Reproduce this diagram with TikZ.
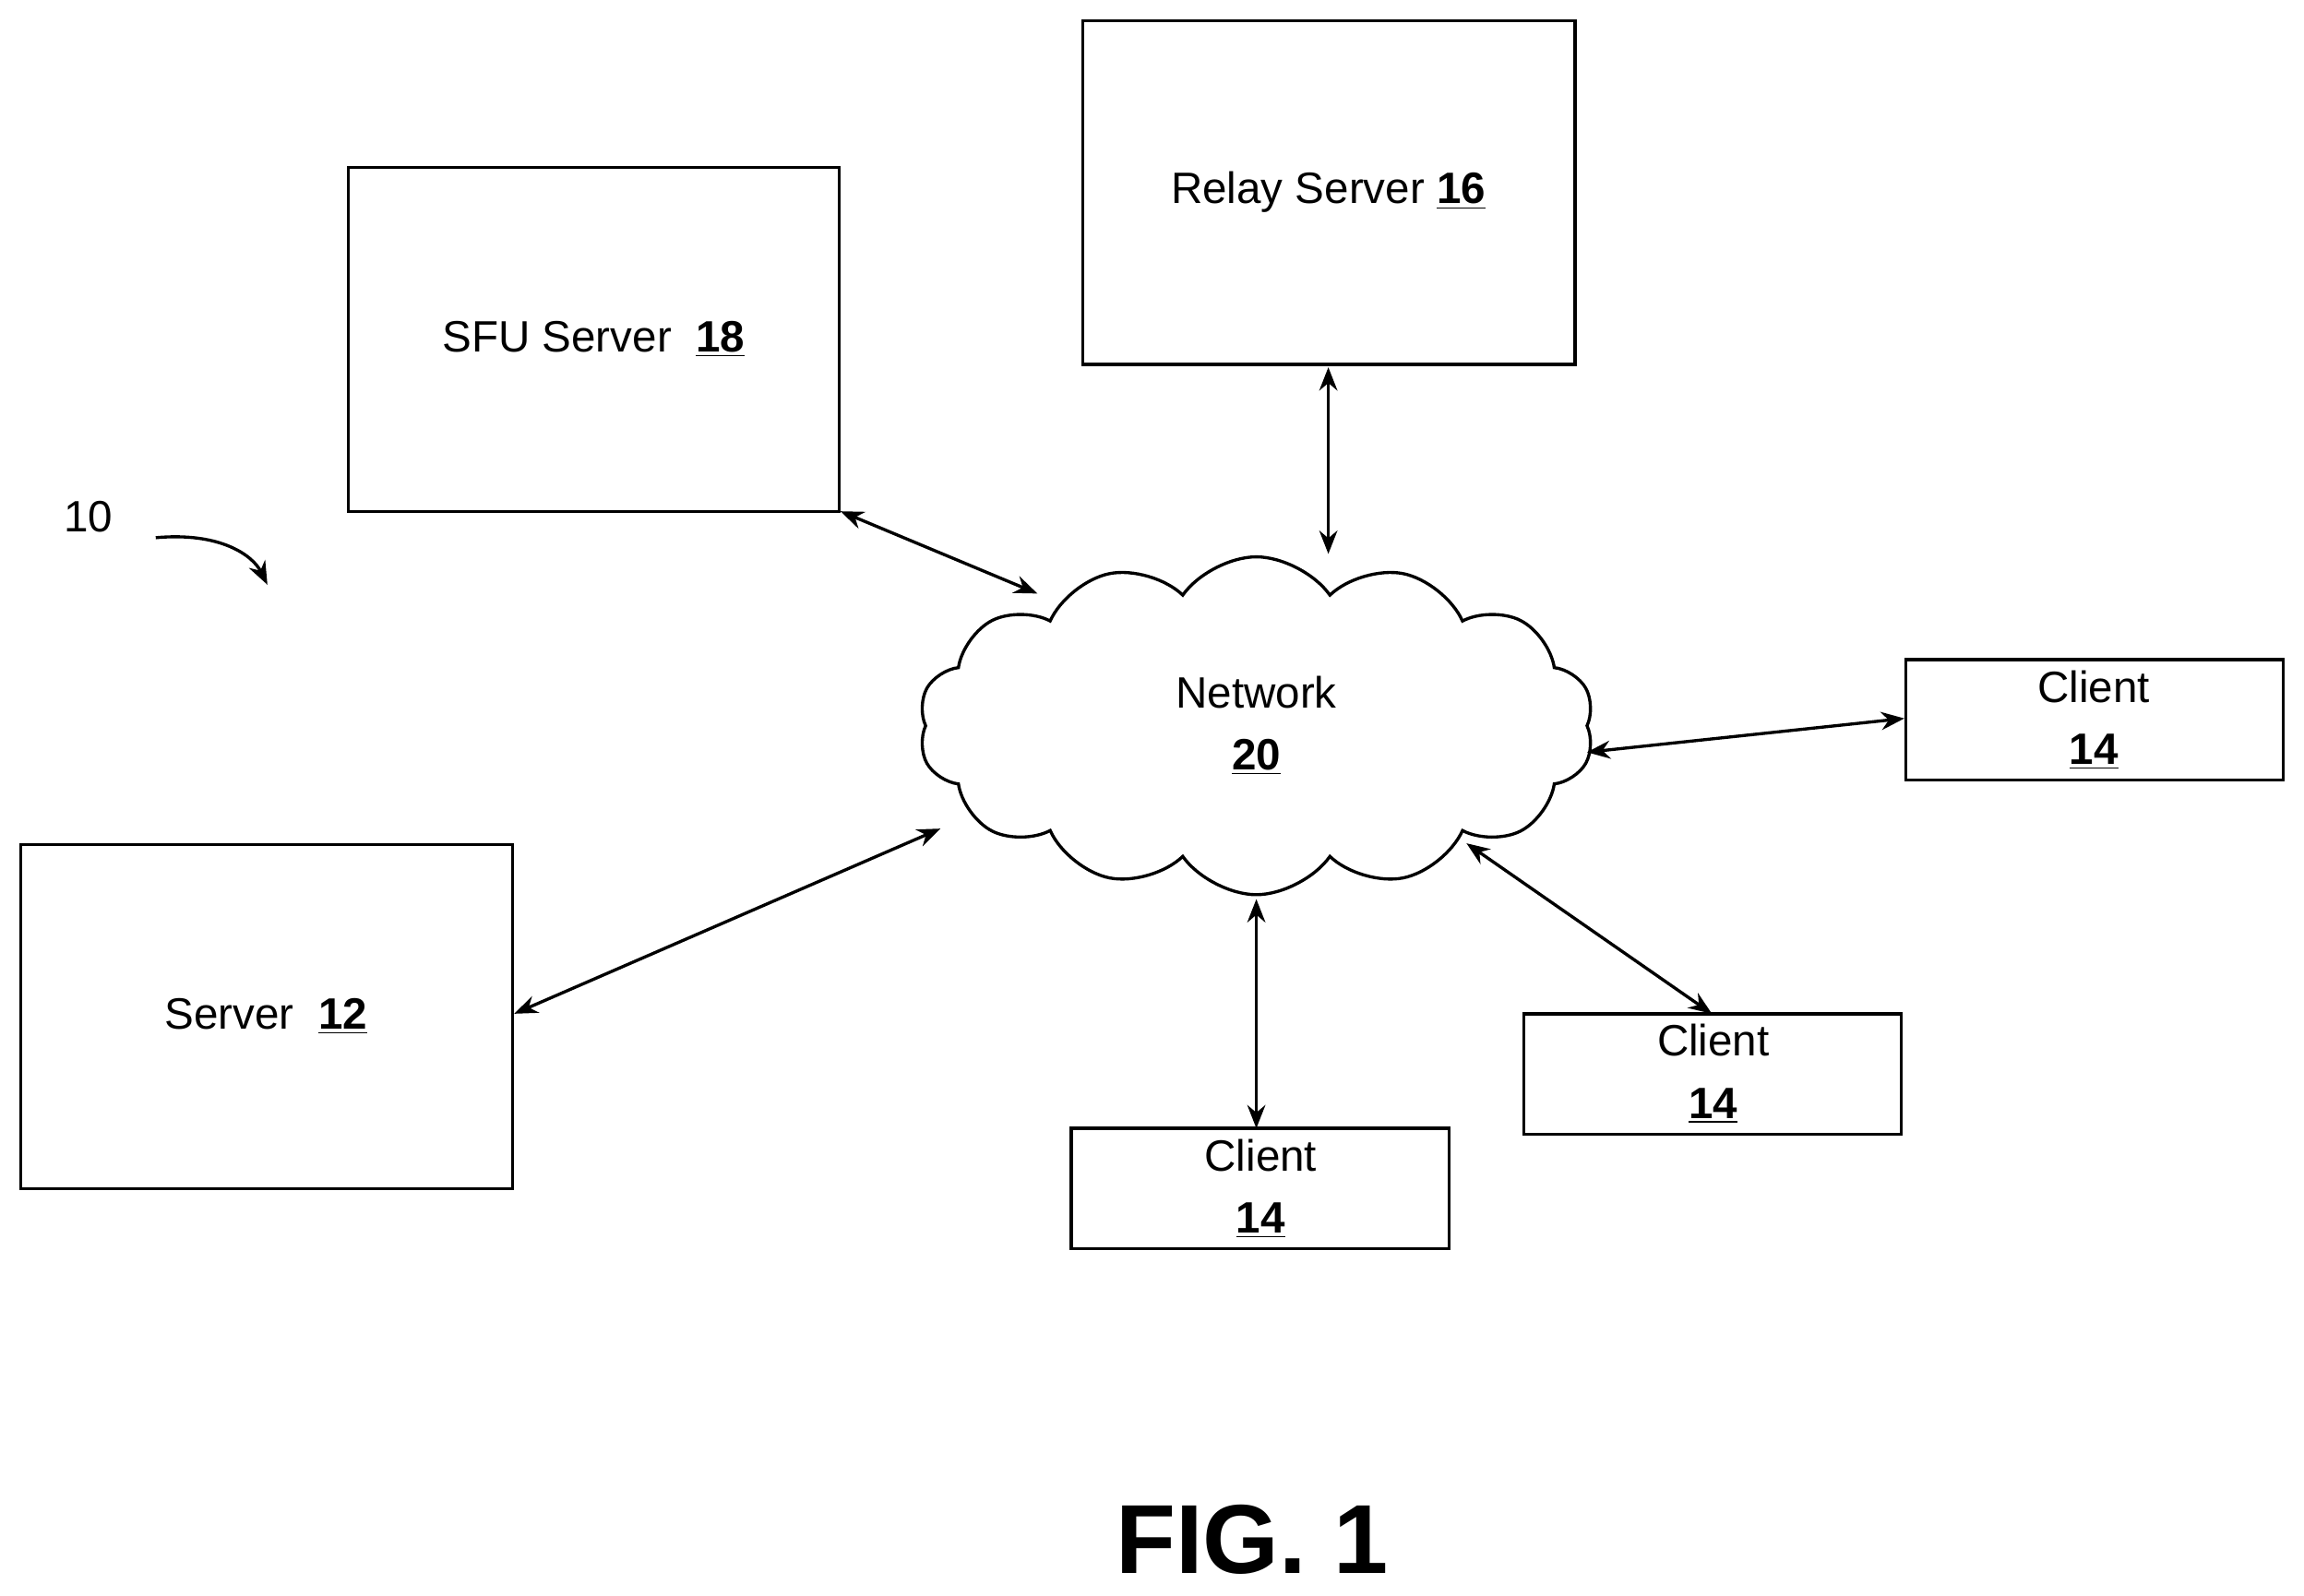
\documentclass[tikz,border=0pt]{standalone}
\usepackage{fontspec}
\setmainfont{Liberation Sans}
\usetikzlibrary{shapes.symbols,arrows.meta}
\begin{document}
\begin{tikzpicture}[x=0.02cm,y=-0.02cm,
  box/.style={draw,line width=1.2pt,fill=white},
  lbl/.style={font=\fontsize{17}{21}\selectfont,align=center},
  conn/.style={line width=1.2pt,{Stealth[length=9pt,width=7pt]}-{Stealth[length=9pt,width=7pt]}}]
\useasboundingbox (0,0) rectangle (1568,1086);
\draw[box] (237,114) rectangle (571,348);
\node[lbl] (sfu) at (404,231) {SFU Server\ \ \underline{\textbf{18}}};
\draw[box] (737,14) rectangle (1072,248);
\node[lbl] (relay) at (904,131) {Relay Server \underline{\textbf{16}}};
\draw[box] (14,575) rectangle (349,809);
\node[lbl] (srv) at (181,692) {Server\ \ \underline{\textbf{12}}};
\draw[box] (1297,449) rectangle (1554,531);
\node[lbl] (c1) at (1425,490) {Client\\[3pt]\underline{\textbf{14}}};
\draw[box] (1037,690) rectangle (1294,772);
\node[lbl] (c2) at (1166,731) {Client\\[3pt]\underline{\textbf{14}}};
\draw[box] (729,768) rectangle (986,850);
\node[lbl] (c3) at (858,809) {Client\\[3pt]\underline{\textbf{14}}};
\node[cloud,draw,line width=1.2pt,cloud puffs=14,cloud puff arc=110,aspect=2,
  minimum width=9.2cm,minimum height=4.6cm] (net) at (855,494) {};
\node[lbl] (netl) at (855,494) {Network\\[3pt]\underline{\textbf{20}}};
\coordinate (a1) at (572,348); \coordinate (a2) at (706,404);
\coordinate (b1) at (904,250); \coordinate (b2) at (904,377);
\coordinate (s1) at (350,690); \coordinate (s2) at (640,564);
\coordinate (d1) at (1296,489); \coordinate (d2) at (1080,512);
\coordinate (e1) at (1165,690); \coordinate (e2) at (998,574);
\coordinate (f1) at (855,768); \coordinate (f2) at (855,612);
\draw[conn] (a1) -- (a2);
\draw[conn] (b1) -- (b2);
\draw[conn] (s1) -- (s2);
\draw[conn] (d1) -- (d2);
\draw[conn] (e1) -- (e2);
\draw[conn] (f1) -- (f2);
\node[lbl] (ten) at (60,352) {10};
\coordinate (t1) at (106,366); \coordinate (t2) at (182,398);
\draw[line width=1.2pt,-{Stealth[length=9pt,width=7pt]}] (t1) .. controls (150,362) and (172,378) .. (t2);
\node[font=\bfseries\fontsize{38}{44}\selectfont] (fig) at (852,1048) {FIG. 1};
\end{tikzpicture}
\end{document}
